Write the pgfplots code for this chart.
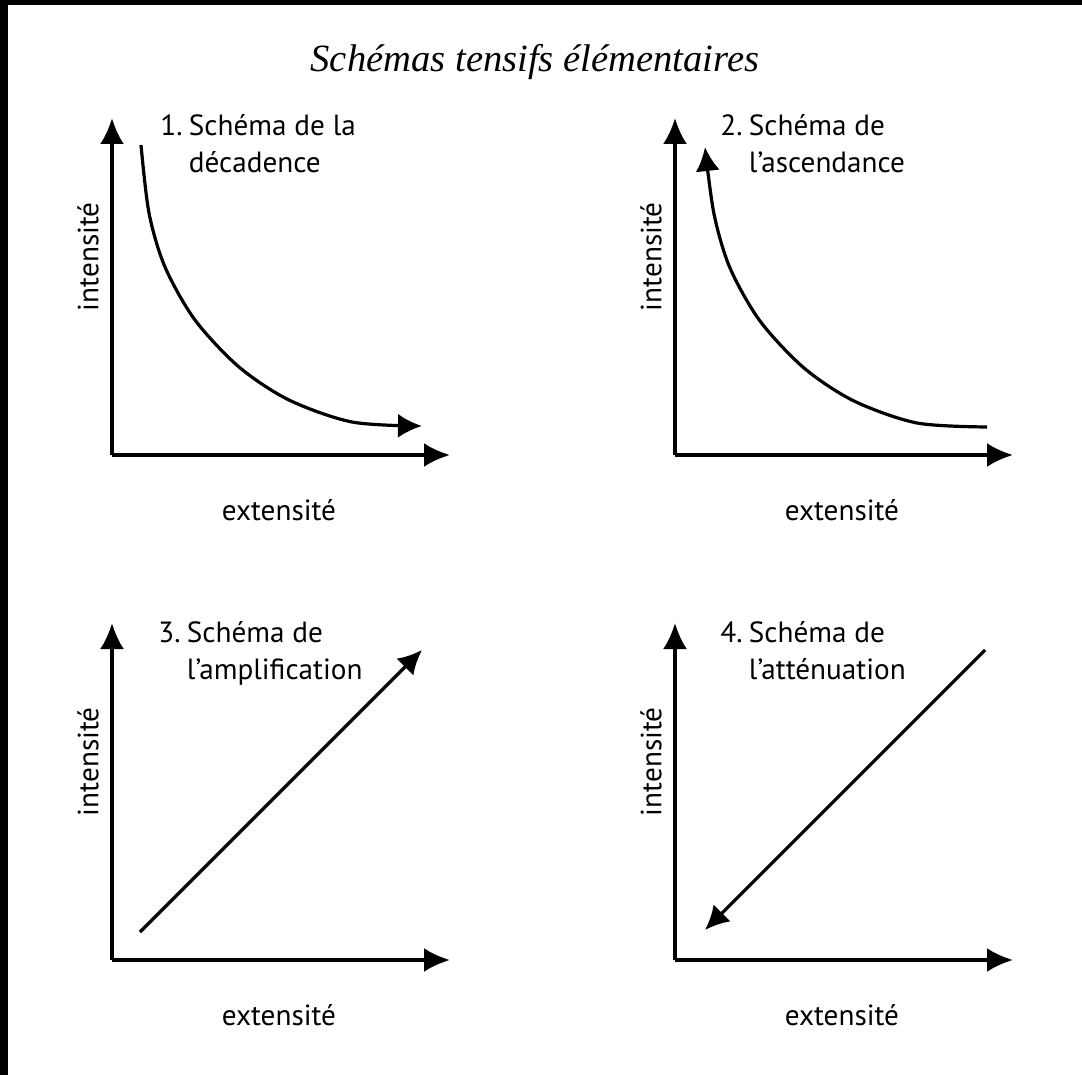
\documentclass[border=0pt]{standalone}
\usepackage{fontspec}
\setmainfont{PT Sans}
\newfontfamily\titlefont{Liberation Serif}
\usepackage{pgfplots}
\usepackage{pgfplotstable}
\pgfplotsset{compat=1.18}
\usetikzlibrary{arrows.meta}
\pgfplotsset{
  schema/.style={
    scale only axis, width=169pt, height=168.5pt,
    xmin=0, xmax=338, ymin=0, ymax=337, enlargelimits=false,
    axis lines=left, ticks=none, clip=false,
    axis line style={line width=1.75pt, -{Latex[length=13pt,width=12pt]}},
    xlabel={extensité}, ylabel={intensité},
    label style={font=\fontsize{14.6}{17}\selectfont},
    xlabel style={at={(axis description cs:0.494,-0.163)}, anchor=center},
    ylabel style={at={(axis description cs:-0.071,0.588)}, anchor=center},
  },
  curve/.style={line width=1.6pt, black, no markers, smooth},
  tip/.style={-{Latex[length=12pt,width=12pt]}},
}
\tikzset{ptitle/.style={anchor=base west, inner sep=0pt, font=\fontsize{14.6}{18.5}\selectfont}}
\newcommand{\schtitle}[2]{\begin{tabular}[t]{@{}l@{\hspace{0.22em}}l@{}}#1 & Schéma de#2\end{tabular}}
\pgfplotstableread{
X Y
29 310
37 242
53 188
83 135
127 88
177 55
240 33
310 29
}\decay
\pgfplotstableread{
X Y
312 28
242 32
179 54
129 87
85 134
55 187
39 241
30 308
}\rise
\begin{document}
\begin{tikzpicture}
\fill[black] (0,0) rectangle (4pt,-537.5pt);
\fill[black] (0,0) rectangle (541pt,-2.5pt);
\node[font=\titlefont\itshape\fontsize{19.3}{22}\selectfont, anchor=base] at (267.5pt,-36pt) {Schémas tensifs élémentaires};

% Panel 1
\begin{axis}[schema, at={(56pt,-227.5pt)}, anchor=origin]
\addplot[curve, tip] table[x=X, y=Y] {\decay};
\node[ptitle] at (axis cs:48,320) {\schtitle{1.}{ la\\ & décadence}};
\end{axis}

% Panel 2
\begin{axis}[schema, at={(337.5pt,-227.5pt)}, anchor=origin]
\addplot[curve, tip] table[x=X, y=Y] {\rise};
\node[ptitle] at (axis cs:45,320) {\schtitle{2.}{\\ & l’ascendance}};
\end{axis}

% Panel 3
\begin{axis}[schema, at={(56pt,-480pt)}, anchor=origin]
\addplot[line width=1.6pt, black, no markers, tip] coordinates {(28,28) (310,310)};
\node[ptitle] at (axis cs:46,318) {\schtitle{3.}{\\ & l’amplification}};
\end{axis}

% Panel 4
\begin{axis}[schema, at={(337.5pt,-480pt)}, anchor=origin]
\addplot[line width=1.6pt, black, no markers, tip] coordinates {(310,310) (30,30)};
\node[ptitle] at (axis cs:45,318) {\schtitle{4.}{\\ & l’atténuation}};
\end{axis}

\pgfresetboundingbox
\path[use as bounding box] (0,0) rectangle (541pt,-537.5pt);
\end{tikzpicture}
\end{document}
